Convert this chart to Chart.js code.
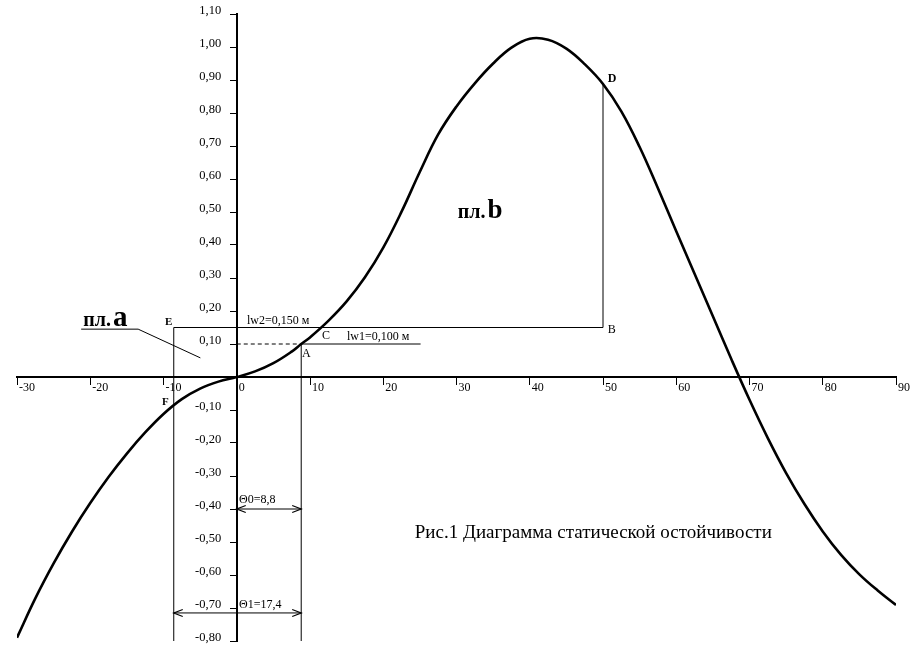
<!DOCTYPE html>
<html>
<head>
<meta charset="utf-8">
<script src="https://cdn.jsdelivr.net/npm/chart.js@4.4.1/dist/chart.umd.min.js"></script>
<style>
  html, body { margin: 0; padding: 0; background: #fff; }
  #wrap { width: 918px; height: 658px; }
</style>
</head>
<body>
<div id="wrap"><canvas id="stability"></canvas></div>
<script>
// heel angle, degrees
const thetaDeg = [-30, -27.5, -25, -22.5, -20, -17.5, -15, -12.5, -10, -7.5, -5, -2.5, 0,
                  2.5, 5, 7.5, 8.8, 10, 12.5, 15, 17.5, 20, 22.5, 25, 27.5, 30, 32.5, 35, 37.5,
                  40, 42.5, 45, 47.5, 50, 52.5, 55, 57.5, 60, 62.5, 65, 67.5, 70, 72.5, 75,
                  77.5, 80, 82.5, 85, 87.5, 90];
// static stability arm, m
const leverArm = [-0.79, -0.671, -0.565, -0.469, -0.382, -0.303, -0.232, -0.168, -0.112, -0.067, -0.035, -0.014, 0,
                  0.017, 0.042, 0.077, 0.10, 0.12, 0.17, 0.229, 0.302, 0.392, 0.501, 0.622, 0.735, 0.82, 0.89, 0.95, 0.998,
                  1.025, 1.022, 0.995, 0.948, 0.888, 0.805, 0.697, 0.572, 0.442, 0.313, 0.184, 0.055, -0.069, -0.185, -0.291,
                  -0.385, -0.468, -0.539, -0.598, -0.647, -0.691];

const xTickValues = [-30, -20, -10, 0, 10, 20, 30, 40, 50, 60, 70, 80, 90];
const xTickLabels = ['-30', '-20', '-10', '0', '10', '20', '30', '40', '50', '60', '70', '80', '90'];
const yTickValues = [-0.8, -0.7, -0.6, -0.5, -0.4, -0.3, -0.2, -0.1, 0.1, 0.2, 0.3, 0.4, 0.5, 0.6, 0.7, 0.8, 0.9, 1.0, 1.1];
const yTickLabels = ['-0,80', '-0,70', '-0,60', '-0,50', '-0,40', '-0,30', '-0,20', '-0,10',
                     '0,10', '0,20', '0,30', '0,40', '0,50', '0,60', '0,70', '0,80', '0,90', '1,00', '1,10'];

// construction values
const lw1 = 0.100;
const lw2 = 0.150;
const theta0 = 8.8;
const theta1 = 17.4;
const thetaLeft = theta0 - theta1;   // point E / F
const thetaD = 50;
const leverD = 0.888;
const lw1End = 25.1;

const serif = '"Liberation Serif", "Times New Roman", serif';

function pts(xs, ys) {
    return xs.map(function(x, i) { return { x: x, y: ys[i] }; });
}

const thin = { borderColor: '#000', borderWidth: 1, pointRadius: 0, fill: false, tension: 0 };

const datasets = [
    Object.assign({}, thin, {
        label: 'curve',
        data: pts(thetaDeg, leverArm),
        borderWidth: 2.6,
        tension: 0.4
    }),
    // F - E - B - D
    Object.assign({}, thin, { label: 'FEBD', data: pts([thetaLeft, thetaLeft, thetaD, thetaD], [-0.8, lw2, lw2, leverD]) }),
    // vertical at theta0 and lw1 line
    Object.assign({}, thin, { label: 'A', data: pts([theta0, theta0, lw1End], [-0.8, lw1, lw1]) }),
    Object.assign({}, thin, { label: 'dash', data: pts([0, theta0], [lw1, lw1]), borderDash: [4, 3] }),
    Object.assign({}, thin, { label: 't0', data: pts([0, theta0], [-0.40, -0.40]), arrows: true }),
    Object.assign({}, thin, { label: 't1', data: pts([thetaLeft, theta0], [-0.715, -0.715]), arrows: true }),
    // leader for area a
    Object.assign({}, thin, { label: 'leader', data: pts([-21.24, -13.46, -4.97], [0.145, 0.145, 0.058]) })
];

// text annotations in chart coordinates
const notes = [
    { text: 'E', x: -9.8, y: 0.158, size: 11, bold: true },
    { text: 'F', x: -10.2, y: -0.085, size: 11, bold: true },
    { text: 'lw2=0,150 м', x: 1.4, y: 0.161, size: 12 },
    { text: 'C', x: 11.64, y: 0.115, size: 12 },
    { text: 'lw1=0,100 м', x: 15.05, y: 0.112, size: 12 },
    { text: 'A', x: 8.9, y: 0.061, size: 12 },
    { text: 'B', x: 50.66, y: 0.133, size: 12 },
    { text: 'D', x: 50.66, y: 0.894, size: 12, bold: true },
    { text: 'Θ0=8,8', x: 0.31, y: -0.382, size: 12 },
    { text: 'Θ1=17,4', x: 0.31, y: -0.70, size: 12 },
    { text: 'Рис.1 Диаграмма статической остойчивости', x: 24.3, y: -0.488, size: 19 }
];
const areaNotes = [
    { small: 'пл.', big: 'a', x: -20.97, y: 0.155, smallSize: 20, bigSize: 29 },
    { small: 'пл.', big: 'b', x: 30.18, y: 0.482, smallSize: 20, bigSize: 27 }
];

const notesPlugin = {
    id: 'notes',
    afterDatasetsDraw(chart) {
        const ctx = chart.ctx;
        const sx = chart.scales.x, sy = chart.scales.y;
        ctx.save();
        ctx.fillStyle = '#000';
        ctx.textAlign = 'left';
        ctx.textBaseline = 'alphabetic';
        notes.forEach(function(n) {
            ctx.font = (n.bold ? 'bold ' : '') + n.size + 'px ' + serif;
            ctx.fillText(n.text, sx.getPixelForValue(n.x), sy.getPixelForValue(n.y));
        });
        areaNotes.forEach(function(n) {
            const px = sx.getPixelForValue(n.x), py = sy.getPixelForValue(n.y);
            ctx.font = 'bold ' + n.smallSize + 'px ' + serif;
            ctx.fillText(n.small, px, py);
            const w = ctx.measureText(n.small).width;
            ctx.font = 'bold ' + n.bigSize + 'px ' + serif;
            ctx.fillText(n.big, px + w + 2, py);
        });
        // arrow heads
        ctx.strokeStyle = '#000';
        ctx.lineWidth = 1.2;
        chart.data.datasets.forEach(function(ds, i) {
            if (!ds.arrows) return;
            const el = chart.getDatasetMeta(i).data;
            const a = el[0], b = el[el.length - 1];
            [[a, -1], [b, 1]].forEach(function(p) {
                const x = p[0].x, y = p[0].y, d = p[1];
                ctx.beginPath();
                ctx.moveTo(x - d * 9, y - 3.5);
                ctx.lineTo(x, y);
                ctx.lineTo(x - d * 9, y + 3.5);
                ctx.stroke();
            });
        });
        ctx.restore();
    }
};

new Chart(document.getElementById('stability'), {
    type: 'line',
    data: { datasets: datasets },
    plugins: [notesPlugin],
    options: {
        responsive: true,
        maintainAspectRatio: false,
        animation: false,
        layout: { padding: { left: 17, right: 22, top: 14, bottom: 17 } },
        plugins: { legend: { display: false }, tooltip: { enabled: false } },
        scales: {
            x: {
                type: 'linear',
                min: -30,
                max: 90,
                position: { y: 0 },
                afterBuildTicks: function(scale) {
                    scale.ticks = xTickValues.map(function(v) { return { value: v }; });
                },
                ticks: {
                    align: 'start',
                    labelOffset: 2,
                    padding: -3,
                    color: '#000',
                    font: { family: serif, size: 12 },
                    maxRotation: 0,
                    autoSkip: false,
                    callback: function(v, i) { return xTickLabels[i]; }
                },
                grid: { drawOnChartArea: false, drawTicks: true, tickLength: 7, color: '#000', lineWidth: 1 },
                border: { display: true, color: '#000', width: 2 }
            },
            y: {
                type: 'linear',
                min: -0.8,
                max: 1.1,
                position: { x: 0 },
                afterBuildTicks: function(scale) {
                    scale.ticks = yTickValues.map(function(v) { return { value: v }; });
                },
                ticks: {
                    labelOffset: -3.5,
                    color: '#000',
                    font: { family: serif, size: 12.5 },
                    autoSkip: false,
                    // labels sit right-aligned on the axis line, pad them off with spaces
                    callback: function(v, i) { return yTickLabels[i] + '     '; }
                },
                grid: { drawOnChartArea: false, drawTicks: true, tickLength: 6, color: '#000', lineWidth: 1 },
                border: { display: true, color: '#000', width: 2 }
            }
        }
    }
});
</script>
</body>
</html>
